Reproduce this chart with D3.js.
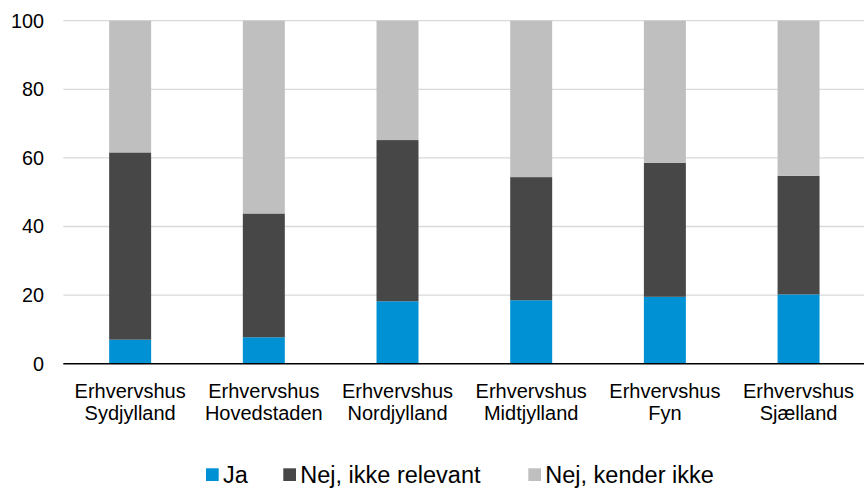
<!DOCTYPE html>
<html>
<head>
<meta charset="utf-8">
<script src="https://cdn.jsdelivr.net/npm/d3@7"></script>
<style>
  html, body { margin: 0; padding: 0; background: #fff; }
  svg { display: block; font-family: "Liberation Sans", Arial, sans-serif; }
</style>
</head>
<body>
<svg id="chart" width="864" height="488"></svg>
<script>
const categories = [
  ["Erhvervshus", "Sydjylland"],
  ["Erhvervshus", "Hovedstaden"],
  ["Erhvervshus", "Nordjylland"],
  ["Erhvervshus", "Midtjylland"],
  ["Erhvervshus", "Fyn"],
  ["Erhvervshus", "Sjælland"]
];
const seriesNames = ["Ja", "Nej, ikke relevant", "Nej, kender ikke"];
const ja = [7.0, 7.7, 18.2, 18.5, 19.5, 20.2];
const nejIkkeRelevant = [54.6, 36.1, 47.0, 35.9, 39.1, 34.6];
const nejKenderIkke = [38.4, 56.2, 34.8, 45.6, 41.4, 45.2];
const yTicks = [0, 20, 40, 60, 80, 100];
const colors = ["#0091d5", "#474747", "#bfbfbf"];

const svg = d3.select("#chart");
const margin = { left: 63.3, right: 0, top: 20.7, bottom: 124.3 };
const W = 864, H = 488;

const keys = categories.map(c => c.join(" "));
const rows = keys.map((k, i) => ({ key: k, s0: ja[i], s1: nejIkkeRelevant[i], s2: nejKenderIkke[i] }));
const stack = d3.stack().keys(["s0", "s1", "s2"]);
const stacked = stack(rows);

const x = d3.scaleBand().domain(keys).range([margin.left, 865.4]).paddingInner(0.686).paddingOuter(0.343);
const y = d3.scaleLinear().domain([0, 100]).range([363.7, 20.7]);

// gridlines
svg.append("g").selectAll("line").data(yTicks.filter(t => t > 0)).join("line")
  .attr("x1", margin.left).attr("x2", W)
  .attr("y1", d => y(d)).attr("y2", d => y(d))
  .attr("stroke", "#d9d9d9").attr("stroke-width", 1.3);

// bars
svg.append("g").selectAll("g").data(stacked).join("g")
  .attr("fill", (d, i) => colors[i])
  .selectAll("rect").data(d => d).join("rect")
  .attr("x", d => x(d.data.key))
  .attr("width", x.bandwidth())
  .attr("y", d => y(d[1]))
  .attr("height", d => y(d[0]) - y(d[1]));

// y axis labels
const yAxis = d3.axisLeft(y).tickValues(yTicks).tickSize(0).tickPadding(0);
const ya = svg.append("g").attr("transform", "translate(44,0)").call(yAxis);
ya.select(".domain").remove();
ya.selectAll("text").attr("font-size", "19.8px").attr("fill", "#000")
  .attr("font-family", "'Liberation Sans', Arial, sans-serif");

// x axis baseline
svg.append("line").attr("x1", margin.left).attr("x2", W)
  .attr("y1", y(0)).attr("y2", y(0))
  .attr("stroke", "#000").attr("stroke-width", 1.5);

// category labels
const xl = svg.append("g").selectAll("text").data(categories).join("text")
  .attr("text-anchor", "middle")
  .attr("font-size", "20px").attr("fill", "#000")
  .attr("x", (d, i) => x(keys[i]) + x.bandwidth() / 2)
  .attr("y", 398);
xl.each(function(d) {
  const t = d3.select(this);
  d.forEach((line, j) => {
    t.append("tspan").attr("x", t.attr("x")).attr("y", 398 + j * 22).text(line);
  });
});

// legend
const legendX = [206, 283.3, 528.3];
const lg = svg.append("g").selectAll("g").data(seriesNames).join("g")
  .attr("transform", (d, i) => `translate(${legendX[i]},0)`);
lg.append("rect").attr("x", 0).attr("y", 468.3).attr("width", 12.7).attr("height", 12.7)
  .attr("fill", (d, i) => colors[i]);
lg.append("text").attr("x", 17).attr("y", 482.5).attr("font-size", "23.5px").attr("fill", "#000")
  .text(d => d);
</script>
</body>
</html>
